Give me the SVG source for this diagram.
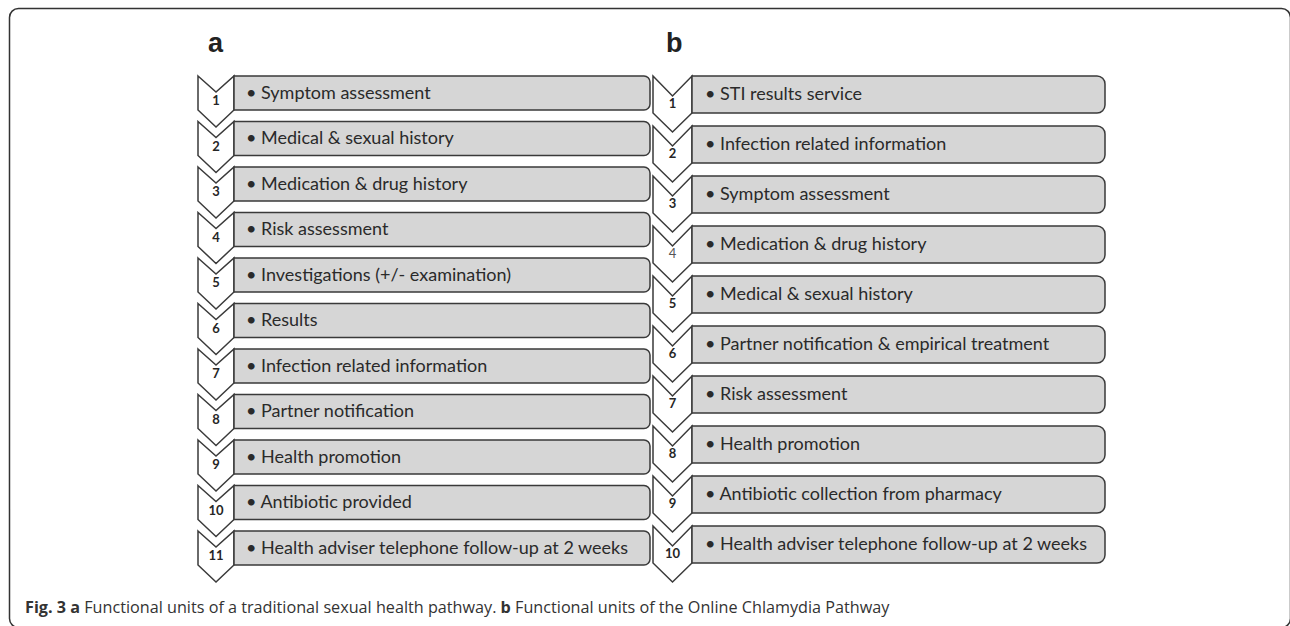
<svg xmlns="http://www.w3.org/2000/svg" xmlns:xlink="http://www.w3.org/1999/xlink" width="1290" height="626" viewBox="0 0 1290 626">
<style>
.frame{fill:none;stroke:#333;stroke-width:1.5}
.shape{fill:#d6d6d6;stroke:#3a3a3a;stroke-width:1.5;stroke-linejoin:miter}
.chev{fill:#fff;stroke:#3a3a3a;stroke-width:1.5;stroke-linejoin:miter}
.lbl{font-family:Lato,"Liberation Sans",sans-serif;font-size:18px;fill:#2a2a2a}
.num{font-family:Lato,"Liberation Sans",sans-serif;font-size:13px;font-weight:bold;fill:#262626;text-anchor:middle}
.numl{font-weight:normal;fill:#555}
.panel{font-family:"Liberation Sans",Arial,sans-serif;font-size:27px;font-weight:bold;fill:#222}
.cap{font-family:"Open Sans","Liberation Sans",sans-serif;font-size:16.2px;fill:#333}
.capb{font-weight:bold}
</style>
<defs>
<path id="chevA" class="chev" d="M198,0 L216,16 L234,0 L234,34 L216,51 L198,34 Z"/>
<path id="boxA" class="shape" d="M234,0 H644 A6,6 0 0 1 650,6 V28 A6,6 0 0 1 644,34 H234 Z"/>
<path id="chevB" class="chev" d="M653,0 L672.5,20 L692,0 L692,37 L672.5,56 L653,37 Z"/>
<path id="boxB" class="shape" d="M692,0 H1097 A8,8 0 0 1 1105,8 V29 A8,8 0 0 1 1097,37 H692 Z"/>
</defs>
<rect class="frame" x="9.5" y="8.5" width="1281" height="619" rx="9"/>
<text class="panel" x="208" y="52">a</text>
<text class="panel" x="666" y="52">b</text>
<g id="connectors"/>
<g id="a1" transform="translate(0,76)"><use xlink:href="#chevA"/><use xlink:href="#boxA"/><text class="num" x="216" y="29">1</text><text class="lbl" x="246" y="22.6">• Symptom assessment</text></g>
<g id="a2" transform="translate(0,121.5)"><use xlink:href="#chevA"/><use xlink:href="#boxA"/><text class="num" x="216" y="29">2</text><text class="lbl" x="246" y="22.6">• Medical &amp; sexual history</text></g>
<g id="a3" transform="translate(0,167)"><use xlink:href="#chevA"/><use xlink:href="#boxA"/><text class="num" x="216" y="29">3</text><text class="lbl" x="246" y="22.6">• Medication &amp; drug history</text></g>
<g id="a4" transform="translate(0,212.5)"><use xlink:href="#chevA"/><use xlink:href="#boxA"/><text class="num" x="216" y="29">4</text><text class="lbl" x="246" y="22.6">• Risk assessment</text></g>
<g id="a5" transform="translate(0,258)"><use xlink:href="#chevA"/><use xlink:href="#boxA"/><text class="num" x="216" y="29">5</text><text class="lbl" x="246" y="22.6">• Investigations (+/- examination)</text></g>
<g id="a6" transform="translate(0,303.5)"><use xlink:href="#chevA"/><use xlink:href="#boxA"/><text class="num" x="216" y="29">6</text><text class="lbl" x="246" y="22.6">• Results</text></g>
<g id="a7" transform="translate(0,349)"><use xlink:href="#chevA"/><use xlink:href="#boxA"/><text class="num" x="216" y="29">7</text><text class="lbl" x="246" y="22.6">• Infection related information</text></g>
<g id="a8" transform="translate(0,394.5)"><use xlink:href="#chevA"/><use xlink:href="#boxA"/><text class="num" x="216" y="29">8</text><text class="lbl" x="246" y="22.6">• Partner notification</text></g>
<g id="a9" transform="translate(0,440)"><use xlink:href="#chevA"/><use xlink:href="#boxA"/><text class="num" x="216" y="29">9</text><text class="lbl" x="246" y="22.6">• Health promotion</text></g>
<g id="a10" transform="translate(0,485.5)"><use xlink:href="#chevA"/><use xlink:href="#boxA"/><text class="num" x="216" y="29">10</text><text class="lbl" x="246" y="22.6">• Antibiotic provided</text></g>
<g id="a11" transform="translate(0,531)"><use xlink:href="#chevA"/><use xlink:href="#boxA"/><text class="num" x="216" y="29">11</text><text class="lbl" x="246" y="22.6">• Health adviser telephone follow-up at 2 weeks</text></g>
<g id="b1" transform="translate(0,76)"><use xlink:href="#chevB"/><use xlink:href="#boxB"/><text class="num" x="672.5" y="31.5">1</text><text class="lbl" x="705" y="23.6">• STI results service</text></g>
<g id="b2" transform="translate(0,126)"><use xlink:href="#chevB"/><use xlink:href="#boxB"/><text class="num" x="672.5" y="31.5">2</text><text class="lbl" x="705" y="23.6">• Infection related information</text></g>
<g id="b3" transform="translate(0,176)"><use xlink:href="#chevB"/><use xlink:href="#boxB"/><text class="num" x="672.5" y="31.5">3</text><text class="lbl" x="705" y="23.6">• Symptom assessment</text></g>
<g id="b4" transform="translate(0,226)"><use xlink:href="#chevB"/><use xlink:href="#boxB"/><text class="num numl" x="672.5" y="31.5">4</text><text class="lbl" x="705" y="23.6">• Medication &amp; drug history</text></g>
<g id="b5" transform="translate(0,276)"><use xlink:href="#chevB"/><use xlink:href="#boxB"/><text class="num" x="672.5" y="31.5">5</text><text class="lbl" x="705" y="23.6">• Medical &amp; sexual history</text></g>
<g id="b6" transform="translate(0,326)"><use xlink:href="#chevB"/><use xlink:href="#boxB"/><text class="num" x="672.5" y="31.5">6</text><text class="lbl" x="705" y="23.6">• Partner notification &amp; empirical treatment</text></g>
<g id="b7" transform="translate(0,376)"><use xlink:href="#chevB"/><use xlink:href="#boxB"/><text class="num" x="672.5" y="31.5">7</text><text class="lbl" x="705" y="23.6">• Risk assessment</text></g>
<g id="b8" transform="translate(0,426)"><use xlink:href="#chevB"/><use xlink:href="#boxB"/><text class="num" x="672.5" y="31.5">8</text><text class="lbl" x="705" y="23.6">• Health promotion</text></g>
<g id="b9" transform="translate(0,476)"><use xlink:href="#chevB"/><use xlink:href="#boxB"/><text class="num" x="672.5" y="31.5">9</text><text class="lbl" x="705" y="23.6">• Antibiotic collection from pharmacy</text></g>
<g id="b10" transform="translate(0,526)"><use xlink:href="#chevB"/><use xlink:href="#boxB"/><text class="num" x="672.5" y="31.5">10</text><text class="lbl" x="705" y="23.6">• Health adviser telephone follow-up at 2 weeks</text></g>
<text class="cap" x="25" y="613"><tspan class="capb">Fig. 3 a</tspan> Functional units of a traditional sexual health pathway. <tspan class="capb">b</tspan> Functional units of the Online Chlamydia Pathway</text>
</svg>
